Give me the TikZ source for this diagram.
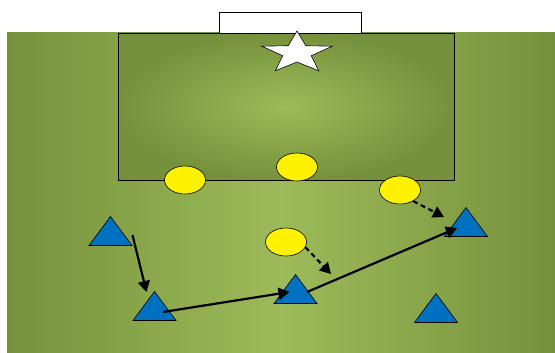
\documentclass[tikz,border=0pt]{standalone}
\usetikzlibrary{arrows.meta, shapes.geometric}

\begin{document}
\begin{tikzpicture}[x=1pt, y=-1pt,
    pass/.style={line width=2.2pt, -{Triangle[length=11pt, width=12pt]}},
    run/.style={pass, dash pattern=on 5pt off 3.5pt},
    defender/.style={ellipse, draw=black, line width=0.6pt, fill=yellow,
        minimum width=41pt, minimum height=28pt, inner sep=0pt},
    attacker/.style={draw=black, line width=0.6pt, fill=attackerBlue}]

    \definecolor{fieldDark}{HTML}{76913B}
    \definecolor{fieldLight}{HTML}{9DBB5A}
    \definecolor{attackerBlue}{HTML}{0070C0}

    \useasboundingbox (0,0) rectangle (555,353);

    % Draw pitch
    \fill[left color=fieldDark, right color=fieldDark, middle color=fieldLight] (7,33) rectangle (555,353);

    % Draw penalty box and goal
    \draw[line width=0.8pt, inner color=fieldLight, outer color=fieldDark] (118,33) rectangle (454,180);
    \filldraw[fill=white, draw=black, line width=0.8pt] (219,33) rectangle (361,12);

    % Draw star in the goal mouth
    \coordinate (goal) at (297,53);
    \draw[fill=white, draw=black, line width=0.6pt]
        plot[samples at={0,...,9}, variable=\k]
        ({297+(mod(\k,2)==0 ? 37 : 15)*cos(90+36*\k)}, {53-(mod(\k,2)==0 ? 22 : 9)*sin(90+36*\k)}) -- cycle;

    % Place defenders
    \node[defender] (y1) at (185,180) {};
    \node[defender] (y2) at (297,167) {};
    \node[defender] (y3) at (400,190) {};
    \node[defender] (y4) at (286,242) {};

    % Place attackers
    \foreach \n/\x/\y in {t1/110.5/231, t2/154.5/306, t3/295.5/289, t4/466/222, t5/436/308} {
        \coordinate (\n) at (\x,\y);
        \draw[attacker] (\n) ++(0,-14.5) -- ++(21.5,29) -- ++(-43,0) -- cycle;
    }

    % Targets for the runs
    \coordinate (r3) at (444,217);
    \coordinate (r4) at (331,274);

    % Draw passes and runs
    \draw[pass] ([shift={(22,4)}]t1) -- ([shift={(-8,-14)}]t2);
    \draw[pass] ([shift={(8.5,6)}]t2) -- ([shift={(-6,3)}]t3);
    \draw[pass] ([shift={(11.5,3)}]t3) -- ([shift={(-9,6)}]t4);
    \draw[run] (y3.-40) -- (r3);
    \draw[run] (y4.-15) -- (r4);

\end{tikzpicture}
\end{document}
